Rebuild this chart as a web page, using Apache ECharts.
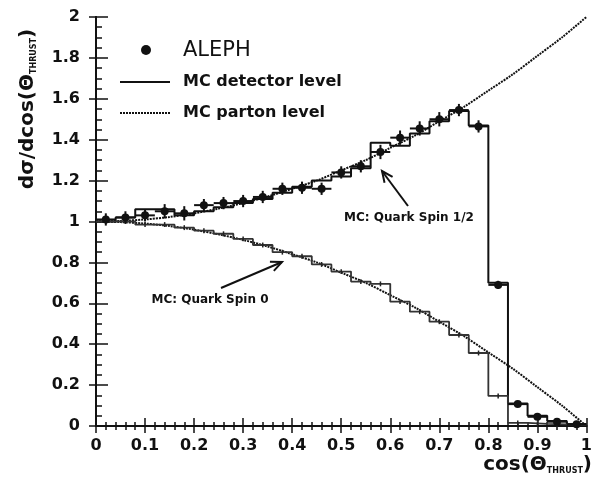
<!DOCTYPE html>
<html>
<head>
<meta charset="utf-8">
<script src="https://cdn.jsdelivr.net/npm/echarts@6/dist/echarts.min.js"></script>
<style>
html, body { margin: 0; padding: 0; background: #fff; }
#chart { width: 595px; height: 484px; }
</style>
</head>
<body>
<div id="chart"></div>
<script>
// bin edges of the cos(theta_thrust) histogram (25 bins of 0.04)
var binEdges = [0, 0.04, 0.08, 0.12, 0.16, 0.20, 0.24, 0.28, 0.32, 0.36, 0.40, 0.44, 0.48,
	0.52, 0.56, 0.60, 0.64, 0.68, 0.72, 0.76, 0.80, 0.84, 0.88, 0.92, 0.96, 1.00];
var binCenters = [0.02, 0.06, 0.10, 0.14, 0.18, 0.22, 0.26, 0.30, 0.34, 0.38, 0.42, 0.46, 0.50,
	0.54, 0.58, 0.62, 0.66, 0.70, 0.74, 0.78, 0.82, 0.86, 0.90, 0.94, 0.98];

// ALEPH data and errors
var alephVals = [1.01, 1.02, 1.03, 1.05, 1.04, 1.08, 1.09, 1.10, 1.12, 1.16, 1.165, 1.16, 1.24,
	1.27, 1.34, 1.41, 1.455, 1.50, 1.545, 1.465, 0.69, 0.107, 0.045, 0.021, 0.008];
var alephErrs = [0.03, 0.03, 0.03, 0.035, 0.035, 0.03, 0.03, 0.03, 0.03, 0.03, 0.03, 0.03, 0.03,
	0.03, 0.035, 0.035, 0.035, 0.035, 0.03, 0.03, 0.02, 0.01, 0.008, 0.006, 0.004];

// MC detector level histograms
var detSpinHalf = [1.00, 1.02, 1.06, 1.06, 1.03, 1.05, 1.07, 1.09, 1.11, 1.14, 1.17, 1.20, 1.22,
	1.26, 1.385, 1.37, 1.43, 1.49, 1.54, 1.47, 0.70, 0.11, 0.05, 0.025, 0.01];
var detSpinZero = [1.00, 1.00, 0.985, 0.985, 0.97, 0.955, 0.94, 0.915, 0.885, 0.85, 0.83, 0.79, 0.755,
	0.706, 0.695, 0.608, 0.559, 0.51, 0.445, 0.357, 0.147, 0.015, 0.01, 0.008, 0.005];

// MC parton level curves
var partonX = [0, 0.05, 0.10, 0.15, 0.20, 0.25, 0.30, 0.35, 0.40, 0.45, 0.50,
	0.55, 0.60, 0.65, 0.70, 0.75, 0.80, 0.85, 0.90, 0.95, 1.00];
var partonSpinHalf = [1.00, 1.003, 1.01, 1.022, 1.04, 1.063, 1.09, 1.122, 1.16, 1.20, 1.25,
	1.30, 1.36, 1.42, 1.49, 1.56, 1.64, 1.72, 1.81, 1.90, 2.00];
var partonSpinZero = [1.00, 0.997, 0.99, 0.978, 0.96, 0.937, 0.91, 0.878, 0.84, 0.80, 0.75,
	0.70, 0.64, 0.58, 0.51, 0.44, 0.36, 0.28, 0.19, 0.10, 0.00];

var legendNames = ['ALEPH', 'MC detector level', 'MC parton level'];

function histData(vals) {
	var out = [];
	for (var i = 0; i < vals.length; i++) out.push([binEdges[i], vals[i]]);
	out.push([binEdges[vals.length], vals[vals.length - 1]]);
	return out;
}
function zipXY(xs, ys) {
	return xs.map(function(x, i) { return [x, ys[i]]; });
}
function arrow(x1, y1, x2, y2) {
	var dx = x2 - x1, dy = y2 - y1, len = Math.sqrt(dx * dx + dy * dy);
	var ux = dx / len, uy = dy / len, px = -uy, py = ux;
	var hl = 11, hw = 5;
	return {
		type: 'group',
		children: [{
			type: 'line',
			shape: { x1: x1, y1: y1, x2: x2, y2: y2 },
			style: { stroke: '#111', lineWidth: 2 }
		}, {
			type: 'polyline',
			shape: { points: [
				[x2 - ux * hl + px * hw, y2 - uy * hl + py * hw],
				[x2, y2],
				[x2 - ux * hl - px * hw, y2 - uy * hl - py * hw]
			] },
			style: { stroke: '#111', lineWidth: 2, fill: null }
		}]
	};
}

var alephData = binCenters.map(function(x, i) { return [x, alephVals[i], alephErrs[i]]; });
var spinZeroCross = binCenters.map(function(x, i) { return [x, detSpinZero[i], 0.012]; });

var chart = echarts.init(document.getElementById('chart'));
var font = 'DejaVu Sans';

var option = {
	animation: false,
	backgroundColor: '#fff',
	textStyle: { fontFamily: font },
	grid: { left: 96, right: 3, top: 17, bottom: 58 },
	xAxis: [{
		type: 'value', min: 0, max: 1, interval: 0.1,
		axisLine: { lineStyle: { color: '#111', width: 2 } },
		axisTick: { inside: true, length: 8, lineStyle: { color: '#111', width: 1.5 } },
		minorTick: { show: true, splitNumber: 5, length: 4, lineStyle: { color: '#111', width: 1.5 } },
		axisLabel: { margin: 12, fontFamily: font, fontSize: 16, fontWeight: 'bold', color: '#111' },
		splitLine: { show: false }
	}, {
		type: 'value', min: 0, max: 1, interval: 0.1, position: 'top',
		axisLine: { show: true, lineStyle: { color: '#111', width: 2 } },
		axisTick: { inside: true, length: 7, lineStyle: { color: '#111', width: 1.5 } },
		minorTick: { show: true, splitNumber: 5, length: 4, lineStyle: { color: '#111', width: 1.5 } },
		axisLabel: { show: false },
		splitLine: { show: false }
	}],
	yAxis: [{
		type: 'value', min: 0, max: 2, interval: 0.2,
		axisLine: { show: true, lineStyle: { color: '#111', width: 2 } },
		axisTick: { inside: true, length: 12, lineStyle: { color: '#111', width: 1.5 } },
		minorTick: { show: true, splitNumber: 4, length: 6, lineStyle: { color: '#111', width: 1.5 } },
		axisLabel: { margin: 16, fontFamily: font, fontSize: 16, fontWeight: 'bold', color: '#111' },
		splitLine: { show: false }
	}, {
		type: 'value', min: 0, max: 2, interval: 0.2, position: 'right',
		axisLine: { show: true, lineStyle: { color: '#111', width: 2 } },
		axisTick: { inside: true, length: 7, lineStyle: { color: '#111', width: 1.5 } },
		axisLabel: { show: false },
		splitLine: { show: false }
	}],
	series: [{
		name: 'MC detector level',
		type: 'line',
		step: 'end',
		symbol: 'none',
		data: histData(detSpinHalf),
		lineStyle: { color: '#111', width: 2 },
		z: 3
	}, {
		name: 'MC detector level',
		type: 'line',
		step: 'end',
		symbol: 'none',
		data: histData(detSpinZero),
		lineStyle: { color: '#333', width: 1.8 },
		z: 3
	}, {
		name: 'MC parton level',
		type: 'line',
		symbol: 'none',
		smooth: 0.3,
		data: zipXY(partonX, partonSpinHalf),
		lineStyle: { color: '#111', width: 2, type: [2, 1] },
		z: 2
	}, {
		name: 'MC parton level',
		type: 'line',
		symbol: 'none',
		smooth: 0.3,
		data: zipXY(partonX, partonSpinZero),
		lineStyle: { color: '#111', width: 2, type: [2, 1] },
		z: 2
	}, {
		name: 'spin0 errors',
		type: 'custom',
		data: spinZeroCross,
		encode: { x: 0, y: 1 },
		z: 4,
		renderItem: function(params, api) {
			var x = api.value(0), y = api.value(1), e = api.value(2);
			var top = api.coord([x, y + e]), bot = api.coord([x, y - e]);
			return {
				type: 'line',
				shape: { x1: top[0], y1: top[1], x2: bot[0], y2: bot[1] },
				style: { stroke: '#222', lineWidth: 1.5 }
			};
		}
	}, {
		name: 'ALEPH',
		type: 'custom',
		data: alephData,
		encode: { x: 0, y: 1 },
		z: 5,
		renderItem: function(params, api) {
			var x = api.value(0), y = api.value(1), e = api.value(2);
			var c = api.coord([x, y]);
			var top = api.coord([x, y + e]), bot = api.coord([x, y - e]);
			var l = api.coord([x - 0.02, y]), r = api.coord([x + 0.02, y]);
			return {
				type: 'group',
				children: [{
					type: 'line',
					shape: { x1: c[0], y1: top[1], x2: c[0], y2: bot[1] },
					style: { stroke: '#111', lineWidth: 2 }
				}, {
					type: 'line',
					shape: { x1: l[0], y1: c[1], x2: r[0], y2: c[1] },
					style: { stroke: '#111', lineWidth: 2 }
				}, {
					type: 'circle',
					shape: { cx: c[0], cy: c[1], r: 4 },
					style: { fill: '#111' }
				}]
			};
		}
	}],
	graphic: [
	// legend
	{ type: 'circle', shape: { cx: 146, cy: 50, r: 5 }, style: { fill: '#111' } },
	{ type: 'text', x: 183, y: 51, style: { text: legendNames[0], verticalAlign: 'middle',
		fontFamily: font, fontSize: 21, fill: '#111' } },
	{ type: 'line', shape: { x1: 120, y1: 82, x2: 170, y2: 82 }, style: { stroke: '#111', lineWidth: 2 } },
	{ type: 'text', x: 183, y: 82, style: { text: legendNames[1], verticalAlign: 'middle',
		fontFamily: font, fontSize: 16, fontWeight: 'bold', fill: '#111' } },
	{ type: 'line', shape: { x1: 120, y1: 113, x2: 170, y2: 113 }, style: { stroke: '#111', lineWidth: 2, lineDash: [2, 1] } },
	{ type: 'text', x: 183, y: 113, style: { text: legendNames[2], verticalAlign: 'middle',
		fontFamily: font, fontSize: 16, fontWeight: 'bold', fill: '#111' } },
	// axis titles
	{
		type: 'text',
		x: 28, y: 109,
		rotation: Math.PI / 2,
		style: {
			text: '{m|dσ/dcos(Θ}{s|THRUST}{m|)}',
			align: 'center', verticalAlign: 'middle',
			fill: '#111',
			rich: {
				m: { fontFamily: font, fontSize: 20, fontWeight: 'bold', verticalAlign: 'middle' },
				s: { fontFamily: font, fontSize: 8, fontWeight: 'bold', verticalAlign: 'bottom', padding: [8, 0, 0, 0] }
			}
		}
	}, {
		type: 'text',
		x: 592, y: 465,
		style: {
			text: '{m|cos(Θ}{s|THRUST}{m|)}',
			align: 'right', verticalAlign: 'middle',
			fill: '#111',
			rich: {
				m: { fontFamily: font, fontSize: 20, fontWeight: 'bold', verticalAlign: 'middle' },
				s: { fontFamily: font, fontSize: 8, fontWeight: 'bold', verticalAlign: 'bottom', padding: [8, 0, 0, 0] }
			}
		}
	},
	// annotations
	{
		type: 'text',
		x: 409, y: 218,
		style: {
			text: 'MC: Quark Spin 1/2',
			align: 'center', verticalAlign: 'middle',
			fontFamily: font, fontSize: 12, fontWeight: 'bold', fill: '#111'
		}
	}, {
		type: 'text',
		x: 210, y: 300,
		style: {
			text: 'MC: Quark Spin 0',
			align: 'center', verticalAlign: 'middle',
			fontFamily: font, fontSize: 12, fontWeight: 'bold', fill: '#111'
		}
	},
	arrow(408, 206, 382, 171),
	arrow(221, 288, 282, 262)
	]
};
chart.setOption(option);
</script>
</body>
</html>
